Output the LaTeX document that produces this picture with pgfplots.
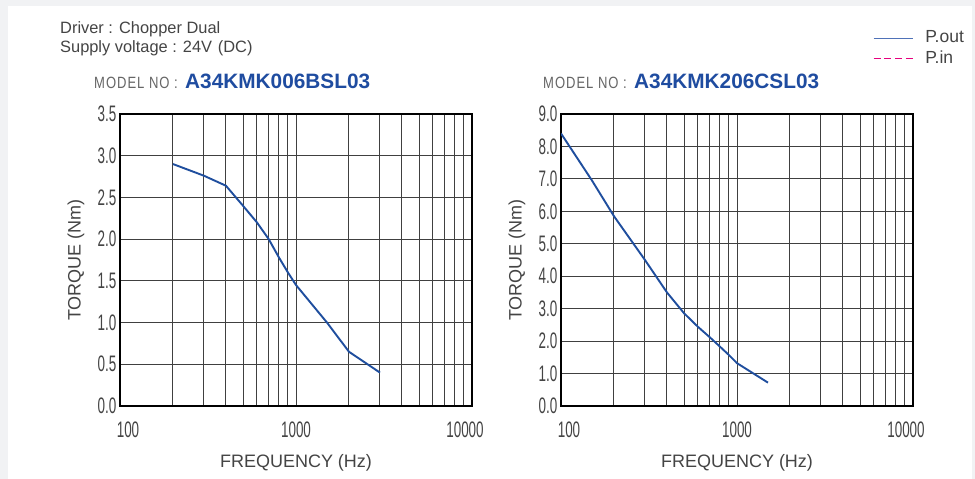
\documentclass[border=0pt]{standalone}
\usepackage{fontspec}
\setmainfont{Liberation Sans}
\newfontfamily\tickfont[FakeStretch=0.6]{Liberation Sans}
\newfontfamily\modelfont[FakeStretch=0.8,LetterSpace=6]{Liberation Sans}
\usepackage{pgfplots}
\usepackage{pgfplotstable}
\pgfplotsset{compat=1.18}

\definecolor{bggray}{HTML}{F1F2F4}
\definecolor{curveblue}{HTML}{1F4E9E}
\definecolor{legblue}{HTML}{4F72B8}
\definecolor{pinmag}{HTML}{E6007E}
\definecolor{titleblue}{HTML}{1F4CA0}
\definecolor{txtgray}{HTML}{444444}
\definecolor{modelgray}{HTML}{666666}
\definecolor{gridgray}{HTML}{404040}

% A34KMK006BSL03
\pgfplotstableread{
f    T
200  2.90
300  2.76
400  2.64
500  2.40
600  2.20
700  2.00
800  1.78
900  1.60
1000 1.45
1500 1.00
2000 0.65
3000 0.40
}\leftdata

% A34KMK206CSL03
\pgfplotstableread{
f    T
100  8.40
150  6.95
200  5.85
300  4.50
400  3.50
500  2.86
600  2.44
700  2.12
800  1.83
900  1.57
1000 1.32
1500 0.72
}\rightdata

\newcommand\lo{\makebox[0pt]{\hspace{16pt}100}}
\newcommand\hi{\makebox[0pt]{10000\hspace{14pt}}}

\begin{document}
\begin{tikzpicture}
\fill[bggray] (0pt,0pt) rectangle (975pt,479pt);
\fill[white] (8pt,0pt) rectangle (972pt,473pt);

\node[anchor=base west, inner sep=0pt, text=txtgray, font=\fontsize{16.4}{19}\selectfont] at (60pt,445pt) {Driver : Chopper Dual};
\node[anchor=base west, inner sep=0pt, text=txtgray, font=\fontsize{16.4}{19}\selectfont] at (60pt,426pt) {Supply voltage : 24V\hspace{0.35em}(DC)};

\begin{axis}[at={(120pt,73pt)}, anchor=south west,
    scale only axis, width=352pt, height=292pt,
    xmode=log, xmin=100, xmax=10000, ymin=0, ymax=3.5,
    xtick={100,1000,10000}, xticklabels={\lo,1000,\hi},
    minor xtick={200,300,400,500,600,700,800,900,2000,3000,4000,5000,6000,7000,8000,9000},
    ytick={0,0.5,...,3.5},
    grid=both,
    major grid style={gridgray, line width=1pt},
    minor grid style={gridgray, line width=1pt},
    major tick length=0pt, minor tick length=0pt,
    axis line style={black, line width=1.8pt},
    tick label style={font=\tickfont\fontsize{22.4}{22.4}\selectfont, text=txtgray},
    yticklabel style={inner sep=0pt, xshift=-3.5pt,
      /pgf/number format/fixed, /pgf/number format/fixed zerofill,
      /pgf/number format/precision=1, /pgf/number format/assume math mode=true},
    xticklabel style={anchor=base, yshift=-32pt},
    xlabel={FREQUENCY (Hz)}, ylabel={TORQUE (Nm)},
    label style={font=\fontsize{18}{18}\selectfont, text=txtgray},
    xlabel style={at={(axis description cs:0.5,-0.195)}, anchor=center},
    ylabel style={at={(axis description cs:-0.125,0.5)}, anchor=center}]
\addplot[curveblue, line width=1.9pt, line join=round, mark=none] table[x=f, y=T] {\leftdata};
\end{axis}

\begin{axis}[at={(561pt,73pt)}, anchor=south west,
    scale only axis, width=352pt, height=292pt,
    xmode=log, xmin=100, xmax=10000, ymin=0, ymax=9,
    xtick={100,1000,10000}, xticklabels={\lo,1000,\hi},
    minor xtick={200,300,400,500,600,700,800,900,2000,3000,4000,5000,6000,7000,8000,9000},
    ytick={0,1,...,9},
    grid=both,
    major grid style={gridgray, line width=1pt},
    minor grid style={gridgray, line width=1pt},
    major tick length=0pt, minor tick length=0pt,
    axis line style={black, line width=1.8pt},
    tick label style={font=\tickfont\fontsize{22.4}{22.4}\selectfont, text=txtgray},
    yticklabel style={inner sep=0pt, xshift=-3.5pt,
      /pgf/number format/fixed, /pgf/number format/fixed zerofill,
      /pgf/number format/precision=1, /pgf/number format/assume math mode=true},
    xticklabel style={anchor=base, yshift=-32pt},
    xlabel={FREQUENCY (Hz)}, ylabel={TORQUE (Nm)},
    label style={font=\fontsize{18}{18}\selectfont, text=txtgray},
    xlabel style={at={(axis description cs:0.5,-0.195)}, anchor=center},
    ylabel style={at={(axis description cs:-0.125,0.5)}, anchor=center},
    legend style={draw=none, fill=none, inner sep=0pt, at={(1.148,1.29)}, anchor=north east,
      font=\fontsize{17.5}{17.5}\selectfont, text=txtgray, row sep=4.5pt,
      nodes={inner sep=1pt}, cells={anchor=west}},
    legend image code/.code={\draw[#1] (0pt,-1pt) -- (39pt,-1pt); \path (50pt,-1pt);}]
\addlegendimage{legblue, line width=1.3pt}
\addlegendimage{pinmag, line width=1.3pt, dash pattern=on 7pt off 3.7pt}
\addplot[curveblue, line width=1.9pt, line join=round, mark=none, forget plot] table[x=f, y=T] {\rightdata};
\legend{P.out, P.in}
\end{axis}

\node[anchor=base west, inner sep=0pt, text=modelgray, font=\modelfont\fontsize{16.3}{16.3}\selectfont] at (94pt,390.5pt) {MODEL NO :};
\node[anchor=base west, inner sep=0pt, text=titleblue, font=\fontsize{20.8}{20.8}\selectfont\bfseries] at (185pt,390.5pt) {A34KMK006BSL03};
\node[anchor=base west, inner sep=0pt, text=modelgray, font=\modelfont\fontsize{16.3}{16.3}\selectfont] at (543pt,390.5pt) {MODEL NO :};
\node[anchor=base west, inner sep=0pt, text=titleblue, font=\fontsize{20.8}{20.8}\selectfont\bfseries] at (634pt,390.5pt) {A34KMK206CSL03};

\pgfresetboundingbox
\path[use as bounding box] (0pt,0pt) rectangle (975pt,479pt);
\end{tikzpicture}
\end{document}
